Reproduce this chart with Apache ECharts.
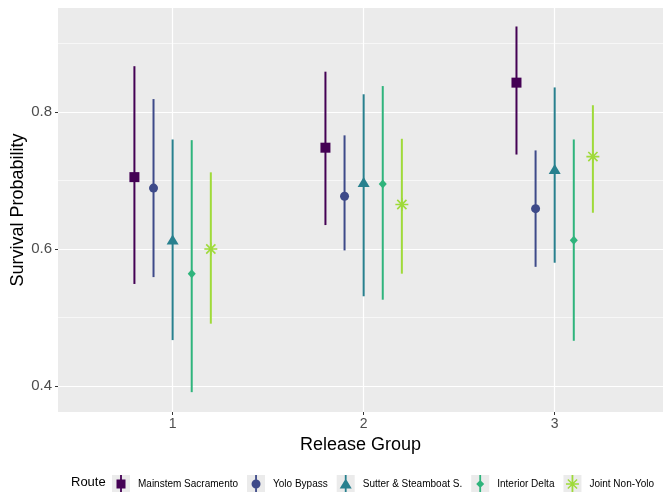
<!DOCTYPE html>
<html>
<head>
<meta charset="utf-8">
<script src="https://cdn.jsdelivr.net/npm/echarts@6/dist/echarts.min.js"></script>
<style>html,body{margin:0;padding:0;background:#fff;}#c{width:663px;height:492px;}</style>
</head>
<body>
<div id="c"></div>
<script>
// ---- data ----
const groups = [1, 2, 3];
const routes = ['Mainstem Sacramento', 'Yolo Bypass', 'Sutter & Steamboat S.', 'Interior Delta', 'Joint Non-Yolo'];
const mainstemEst  = [0.705, 0.748, 0.843];
const mainstemLow  = [0.549, 0.635, 0.738];
const mainstemHigh = [0.867, 0.859, 0.925];
const yoloEst  = [0.689, 0.677, 0.659];
const yoloLow  = [0.559, 0.598, 0.574];
const yoloHigh = [0.819, 0.766, 0.744];
const sutterEst  = [0.614, 0.698, 0.717];
const sutterLow  = [0.467, 0.531, 0.580];
const sutterHigh = [0.760, 0.826, 0.836];
const deltaEst  = [0.564, 0.695, 0.613];
const deltaLow  = [0.391, 0.526, 0.466];
const deltaHigh = [0.759, 0.838, 0.760];
const jointEst  = [0.600, 0.665, 0.735];
const jointLow  = [0.491, 0.564, 0.653];
const jointHigh = [0.712, 0.761, 0.810];
const yMajorTicks = [0.4, 0.6, 0.8];
const yMinorTicks = [0.5, 0.7, 0.9];
const xTicks = [1, 2, 3];

// ---- styling / layout ----
const FONT = "'Liberation Sans', Arial, sans-serif";
const colors = ['#440154', '#3E4A89', '#28808E', '#2FB47C', '#9FDA3A'];
const dodge = [-0.2, -0.1, 0, 0.1, 0.2];
const est = [mainstemEst, yoloEst, sutterEst, deltaEst, jointEst];
const low = [mainstemLow, yoloLow, sutterLow, deltaLow, jointLow];
const high = [mainstemHigh, yoloHigh, sutterHigh, deltaHigh, jointHigh];
const symbols = [
  'rect',
  'circle',
  'triangle',
  'diamond',
  'path://M0,-6.5V6.5M-6.5,0H6.5M-4.6,-4.6L4.6,4.6M-4.6,4.6L4.6,-4.6'
];
const symbolSizes = [[10, 10], [9, 9], [12, 10], [8, 9], [13, 13]];
// corner points keep every legend icon's bounding box at 18x18
const BOX = 'M0,0L0,0Z M18,18L18,18Z ';
const LINE = 'M8.1,0H9.9V18H8.1Z ';
const legendIcons = [
  'path://' + BOX + LINE + 'M4.5,4.5H13.5V13.5H4.5Z',
  'path://' + BOX + LINE + 'M4.5,9A4.5,4.5 0 1 1 13.5,9A4.5,4.5 0 1 1 4.5,9Z',
  'path://' + BOX + LINE + 'M9,3.5L15,13.5L3,13.5Z',
  'path://' + BOX + LINE + 'M9,5L13,9L9,13L5,9Z',
  'path://' + BOX + LINE + 'M2.5,8.3H15.5V9.7H2.5Z M4.9,3.9L14.1,13.1L13.1,14.1L3.9,4.9Z M4.9,14.1L3.9,13.1L13.1,3.9L14.1,4.9Z'
];

const series = [];
// gridlines
series.push({
  type: 'line', data: [], silent: true, z: 1,
  markLine: {
    silent: true, z: 1, symbol: ['none', 'none'], label: {show: false}, animation: false,
    lineStyle: {color: '#ffffff', width: 0.6, type: 'solid'},
    emphasis: {disabled: true},
    data: yMinorTicks.map(v => ({yAxis: v}))
  }
});
series.push({
  type: 'line', data: [], silent: true, z: 1,
  markLine: {
    silent: true, z: 1, symbol: ['none', 'none'], label: {show: false}, animation: false,
    lineStyle: {color: '#ffffff', width: 1.2, type: 'solid'},
    emphasis: {disabled: true},
    data: yMajorTicks.map(v => ({yAxis: v})).concat(xTicks.map(v => ({xAxis: v})))
  }
});

routes.forEach((name, i) => {
  const c = colors[i];
  series.push({
    name: name,
    type: 'scatter',
    z: 11,
    symbol: symbols[i],
    symbolSize: symbolSizes[i],
    itemStyle: i === 4 ? {color: 'rgba(0,0,0,0)', borderColor: c, borderWidth: 1.6, opacity: 1} : {color: c, opacity: 1},
    data: groups.map((g, j) => [g + dodge[i], est[i][j]])
  });
  series.push({
    name: name,
    type: 'custom',
    z: 10,
    encode: {x: 0, y: [1, 2]},
    data: groups.map((g, j) => [g + dodge[i], low[i][j], high[i][j]]),
    renderItem: function (params, api) {
      const p1 = api.coord([api.value(0), api.value(1)]);
      const p2 = api.coord([api.value(0), api.value(2)]);
      return {
        type: 'line',
        shape: {x1: p1[0], y1: p1[1], x2: p2[0], y2: p2[1]},
        style: {stroke: c, lineWidth: 2}
      };
    }
  });
});

const legendCommon = {
  orient: 'horizontal',
  left: 112,
  top: 475,
  itemWidth: 18,
  itemHeight: 18,
  itemGap: 9,
  selectedMode: false,
  symbolKeepAspect: true,
  padding: 0
};

const option = {
  animation: false,
  backgroundColor: '#ffffff',
  grid: {
    left: 58, right: 0, top: 8, bottom: 80,
    outerBoundsMode: 'none',
    containLabel: false,
    show: true, backgroundColor: '#EBEBEB', borderWidth: 0
  },
  xAxis: {
    type: 'value',
    min: 0.4, max: 3.567,
    name: 'Release Group',
    nameLocation: 'middle',
    nameGap: 23,
    nameTextStyle: {fontFamily: FONT, fontSize: 18, color: '#000000'},
    axisLine: {show: false},
    axisTick: {show: true, customValues: xTicks, length: 3, lineStyle: {color: '#333333', width: 1}},
    axisLabel: {customValues: xTicks, color: '#4D4D4D', fontFamily: FONT, fontSize: 14, margin: 5},
    splitLine: {show: false}
  },
  yAxis: {
    type: 'value',
    min: 0.362, max: 0.952,
    name: 'Survival Probability',
    nameLocation: 'middle',
    nameGap: 31,
    nameMoveOverlap: false,
    nameTextStyle: {fontFamily: FONT, fontSize: 18, color: '#000000'},
    axisLine: {show: false},
    axisTick: {show: true, customValues: yMajorTicks, length: 3, lineStyle: {color: '#333333', width: 1}},
    axisLabel: {customValues: yMajorTicks, color: '#4D4D4D', fontFamily: FONT, fontSize: 15, margin: 6,
      formatter: v => v.toFixed(1)},
    splitLine: {show: false}
  },
  legend: [
    Object.assign({}, legendCommon, {
      z: 3,
      textStyle: {fontFamily: FONT, fontSize: 10, color: 'rgba(0,0,0,0)', padding: [0, 0, 0, 3]},
      data: routes.map(n => ({name: n, icon: 'rect', itemStyle: {color: '#EBEBEB', borderWidth: 0}}))
    }),
    Object.assign({}, legendCommon, {
      z: 4,
      textStyle: {fontFamily: FONT, fontSize: 10, color: '#000000', padding: [0, 0, 0, 3]},
      data: routes.map((n, i) => ({name: n, icon: legendIcons[i], itemStyle: {color: colors[i], borderWidth: 0, opacity: 1}}))
    })
  ],
  graphic: [{
    type: 'text', left: 71, top: 476,
    style: {text: 'Route', fontFamily: FONT, fontSize: 13, fill: '#000000'}
  }],
  series: series
};

const chart = echarts.init(document.getElementById('c'), null, {renderer: 'canvas'});
chart.setOption(option);
</script>
</body>
</html>
